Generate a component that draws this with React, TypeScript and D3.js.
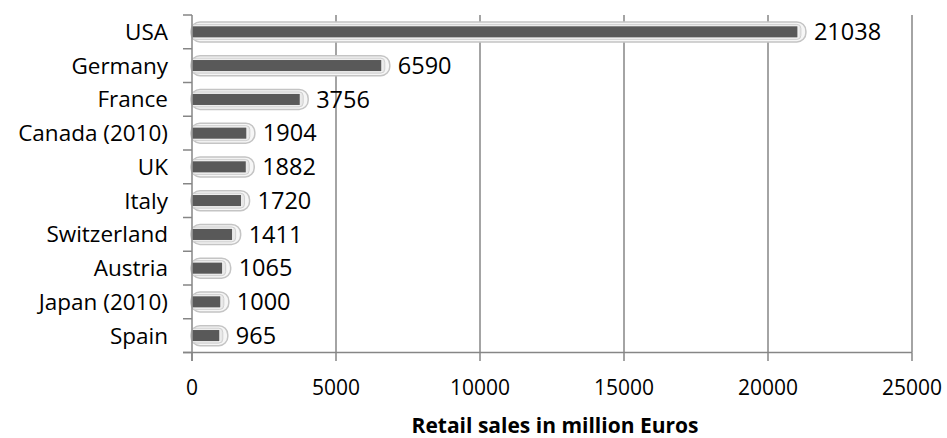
import React from "react";
import * as d3 from "d3";

const categories = ["USA", "Germany", "France", "Canada (2010)", "UK", "Italy", "Switzerland", "Austria", "Japan (2010)", "Spain"];
const values = [21038, 6590, 3756, 1904, 1882, 1720, 1411, 1065, 1000, 965];
const xTicks = [0, 5000, 10000, 15000, 20000, 25000];
const axisTitle = "Retail sales in million Euros";

const W = 947, H = 438;
const left = 192, right = 912, top = 15, bottom = 352.5;
const FONT = "Open Sans, Liberation Sans, sans-serif";

export default function App() {
  const x = d3.scaleLinear().domain([0, 25000]).range([left, right]);
  const y = d3.scaleBand<string>().domain(categories).range([top, bottom]);
  const bw = y.bandwidth();
  return (
    <svg width={W} height={H} style={{ position: "absolute", left: 0, top: 0 }}>
      <rect width={W} height={H} fill="#fff" />
      {xTicks.slice(1).map((t) => (
        <line key={t} x1={x(t)} x2={x(t)} y1={top} y2={bottom} stroke="#868686" strokeWidth={1.5} />
      ))}
      {categories.map((c, i) => {
        const yc = (y(c) as number) + bw / 2;
        const xe = x(values[i]);
        return (
          <g key={c}>
            <rect x={left - 1} y={yc - 10} width={xe - left + 9} height={20} rx={9} fill="#f6f6f6" stroke="#c4c4c4" strokeWidth={1.5} />
            <rect x={left} y={yc - 7.5} width={xe - left + 3} height={15} rx={4} fill="#e8e8e8" stroke="#d0d0d0" strokeWidth={1} />
            <rect x={left} y={yc - 6} width={xe - left} height={12} fill="#595959" stroke="#fff" strokeWidth={0.8} />
            <text x={xe + 16} y={yc} dy="0.35em" fontFamily={FONT} fontSize={23.5} fill="#000">{values[i]}</text>
            <text x={168} y={yc} dy="0.35em" textAnchor="end" fontFamily={FONT} fontSize={22.5} fill="#000">{c}</text>
          </g>
        );
      })}
      <line x1={left} x2={left} y1={top} y2={361} stroke="#868686" strokeWidth={1.5} />
      {d3.range(categories.length + 1).map((i) => {
        const yy = top + i * bw;
        return <line key={i} x1={183} x2={left} y1={yy} y2={yy} stroke="#868686" strokeWidth={1.5} />;
      })}
      <line x1={183} x2={right} y1={bottom} y2={bottom} stroke="#868686" strokeWidth={1.5} />
      {xTicks.map((t) => (
        <g key={t}>
          <line x1={x(t)} x2={x(t)} y1={bottom} y2={361} stroke="#868686" strokeWidth={1.5} />
          <text x={x(t)} y={388} dy="0.35em" textAnchor="middle" fontFamily={FONT} fontSize={21} fill="#000">{t}</text>
        </g>
      ))}
      <text x={555} y={426} dy="0.35em" textAnchor="middle" fontFamily={FONT} fontSize={21} fontWeight="bold" fill="#000">{axisTitle}</text>
    </svg>
  );
}
